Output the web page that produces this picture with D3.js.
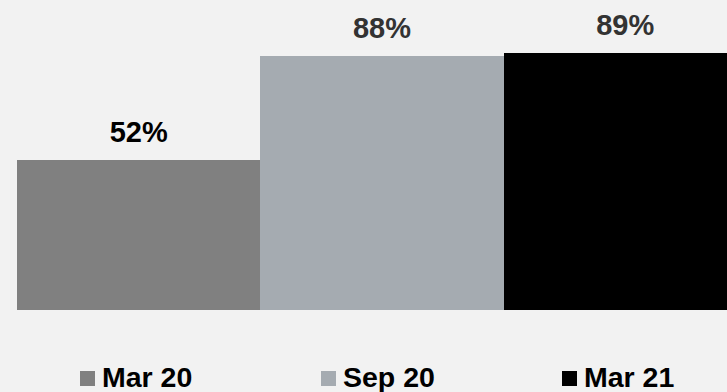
<!DOCTYPE html>
<html>
<head>
<meta charset="utf-8">
<script src="https://cdn.jsdelivr.net/npm/d3@7"></script>
<style>
  html, body { margin: 0; padding: 0; background: #f2f2f2; overflow: hidden; }
  svg { display: block; }
</style>
</head>
<body>
<div id="chart"></div>
<script>
const categories = ["Mar 20", "Sep 20", "Mar 21"];
const values = [52, 88, 89];
const valueLabels = ["52%", "88%", "89%"];
const colors = ["#808080", "#a5abb1", "#000000"];
const labelColors = ["#000000", "#333333", "#333333"];

const W = 727, H = 392;
const svg = d3.select("#chart").append("svg")
  .attr("width", W).attr("height", H);

svg.append("rect").attr("width", W).attr("height", H).attr("fill", "#f2f2f2");

const x = d3.scaleBand().domain(categories).range([17, 17 + 3 * 243.3]).padding(0);
const y = d3.scaleLinear().domain([0, 100]).range([310.3, 21.3]);
const color = d3.scaleOrdinal().domain(categories).range(colors);

const data = categories.map((c, i) => ({ c, v: values[i], label: valueLabels[i], lc: labelColors[i] }));

svg.selectAll("rect.bar").data(data).enter().append("rect")
  .attr("class", "bar")
  .attr("x", d => x(d.c))
  .attr("width", x.bandwidth())
  .attr("y", d => y(d.v))
  .attr("height", d => y(0) - y(d.v))
  .attr("fill", d => color(d.c))
  .attr("shape-rendering", "crispEdges");

svg.selectAll("text.val").data(data).enter().append("text")
  .attr("class", "val")
  .attr("x", d => x(d.c) + x.bandwidth() / 2)
  .attr("y", d => y(d.v) - 18)
  .attr("text-anchor", "middle")
  .attr("font-family", "'Liberation Sans', Arial, sans-serif")
  .attr("font-weight", "bold")
  .attr("font-size", "29px")
  .attr("fill", d => d.lc)
  .text(d => d.label);

// Legend
const legendX = d3.scalePoint().domain(categories).range([80, 562]);
const lg = svg.selectAll("g.leg").data(categories).enter().append("g")
  .attr("class", "leg")
  .attr("transform", d => `translate(${legendX(d)},0)`);
lg.append("rect")
  .attr("x", 0).attr("y", 371).attr("width", 15).attr("height", 15)
  .attr("fill", d => color(d));
lg.append("text")
  .attr("x", 22).attr("y", 387)
  .attr("font-family", "'Liberation Sans', Arial, sans-serif")
  .attr("font-weight", "bold")
  .attr("font-size", "28.5px")
  .attr("fill", "#000")
  .text(d => d);
</script>
</body>
</html>
